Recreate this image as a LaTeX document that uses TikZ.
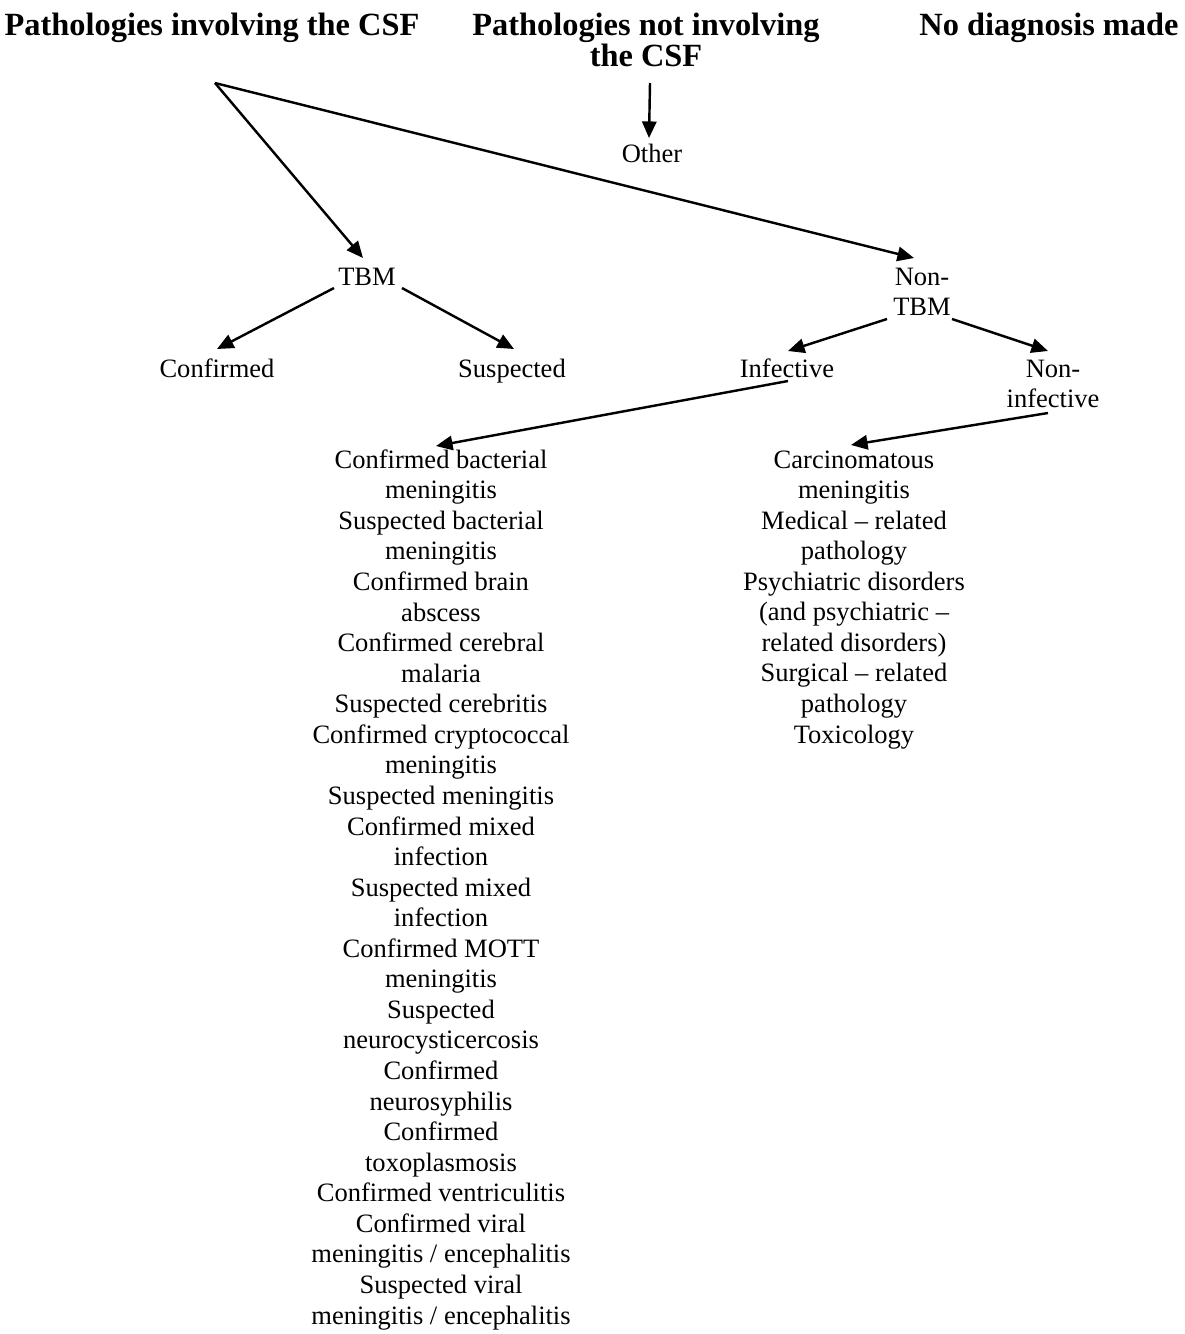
\documentclass[tikz,border=0pt]{standalone}
\usepackage{fontspec}
\setmainfont{Liberation Serif}
\usetikzlibrary{arrows.meta}
\begin{document}
\begin{tikzpicture}[x=0.4525pt,y=-0.4525pt,
  lbl/.style={inner sep=0pt,anchor=base,align=center,font=\fontsize{12pt}{13.83pt}\selectfont},
  head/.style={inner sep=0pt,anchor=base,align=center,font=\fontsize{14.65pt}{14pt}\selectfont\bfseries},
  arr/.style={line width=1.1pt,-{Triangle[length=7.5pt,width=6.5pt]}}]
\useasboundingbox (0,0) rectangle (1184,1334);
% headings (multi-line nodes are placed by the baseline of their last line)
\node[head] (h1) at (212,35) {Pathologies involving the CSF};
\node[head] (h2) at (646,66) {Pathologies not involving\\the CSF};
\node[head] (h3) at (1049,35) {No diagnosis made};
% level nodes
\node[lbl] (other) at (652,162) {Other};
\node[lbl] (tbm) at (367,285) {TBM};
\node[lbl] (ntbm) at (922,315.6) {Non-\\TBM};
\node[lbl] (conf) at (217,377) {Confirmed};
\node[lbl] (susp) at (512,377) {Suspected};
\node[lbl] (inf) at (787,377) {Infective};
\node[lbl] (ninf) at (1053,407.6) {Non-\\infective};
\node[lbl] (infl) at (441,1324) {Confirmed bacterial\\meningitis\\Suspected bacterial\\meningitis\\Confirmed brain\\abscess\\Confirmed cerebral\\malaria\\Suspected cerebritis\\Confirmed cryptococcal\\meningitis\\Suspected meningitis\\Confirmed mixed\\infection\\Suspected mixed\\infection\\Confirmed MOTT\\meningitis\\Suspected\\neurocysticercosis\\Confirmed\\neurosyphilis\\Confirmed\\toxoplasmosis\\Confirmed ventriculitis\\Confirmed viral\\meningitis / encephalitis\\Suspected viral\\meningitis / encephalitis};
\node[lbl] (ninfl) at (854,743.1) {Carcinomatous\\meningitis\\Medical – related\\pathology\\Psychiatric disorders\\(and psychiatric –\\related disorders)\\Surgical – related\\pathology\\Toxicology};
% connector points
\coordinate (v) at (215,83);
\coordinate (h2o) at (650,83);
\coordinate (othin) at (649,138);
\coordinate (tbmin) at (363,258);
\coordinate (ntbmin) at (914,258);
\coordinate (tbmoutl) at (334,288);
\coordinate (tbmoutr) at (402,288);
\coordinate (confin) at (217,349);
\coordinate (suspin) at (514,349);
\coordinate (ntbmoutl) at (887,319);
\coordinate (ntbmoutr) at (952,319);
\coordinate (infin) at (788,351);
\coordinate (ninfin) at (1048,351);
\coordinate (infout) at (788,381);
\coordinate (infin2) at (436,446);
\coordinate (ninfout) at (1048,413);
\coordinate (ninfin2) at (851,445);
% connectors
\draw[arr] (h2o) -- (othin);
\draw[arr] (v) -- (tbmin);
\draw[arr] (v) -- (ntbmin);
\draw[arr] (tbmoutl) -- (confin);
\draw[arr] (tbmoutr) -- (suspin);
\draw[arr] (ntbmoutl) -- (infin);
\draw[arr] (ntbmoutr) -- (ninfin);
\draw[arr] (infout) -- (infin2);
\draw[arr] (ninfout) -- (ninfin2);
\end{tikzpicture}
\end{document}
